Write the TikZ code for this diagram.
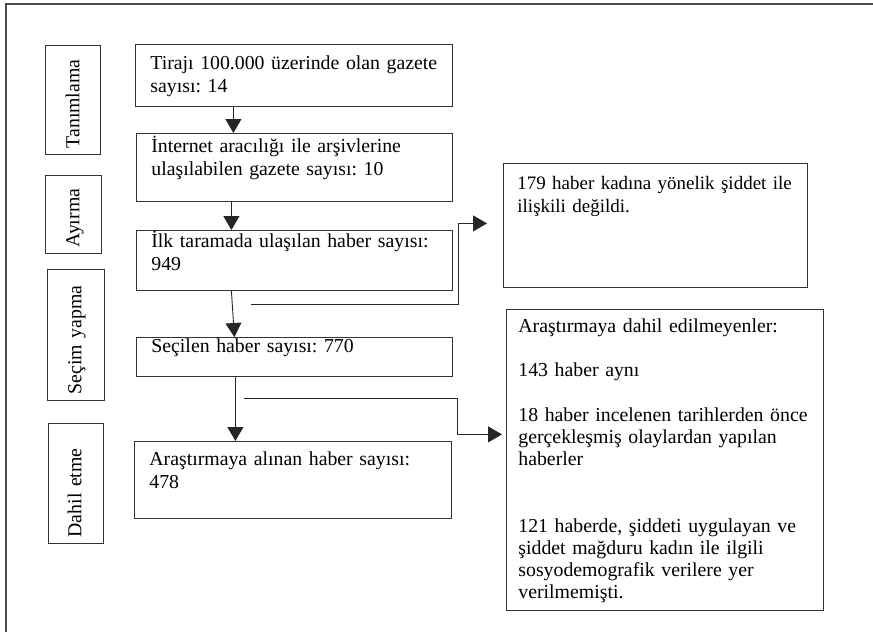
\documentclass[tikz,border=0pt]{standalone}
\usepackage{fontspec}
\setmainfont{Liberation Serif}
\usetikzlibrary{arrows.meta}
\usetikzlibrary{positioning}
\definecolor{mgray}{rgb}{0.2, 0.2, 0.2}
\newcommand{\stagefont}{\fontsize{19.8pt}{22.7pt}\selectfont}
\frenchspacing

\tikzset{
  stage/.style={draw=mgray, line width=0.8pt, anchor=north west, align=left, inner xsep=15pt, inner ysep=0pt, font=\stagefont},
  phase/.style={draw=mgray, line width=0.8pt, rotate=90, anchor=north east, align=left, inner xsep=6pt, inner ysep=0pt, font=\stagefont},
  flow/.style={-{Triangle[width=16pt, length=14pt]}, line width=0.9pt, black!85}
}

\begin{document}
\begin{tikzpicture}[x=1pt, y=-1pt]
      \useasboundingbox (0, 0) rectangle (873, 632);
      \draw [line width=1.3pt, black!70] (873, 4) -- (6, 4) -- (6, 632);

      \node [phase, text width=97pt, text height=34pt, text depth=21pt] (tanimlama) at (45, 45) {Tanımlama};
      \node [phase, text width=66pt, text height=34pt, text depth=22pt] (ayirma) at (45, 175) {Ayırma};
      \node [phase, text width=119pt, text height=34pt, text depth=23pt] (secim) at (47, 269) {Seçim yapma};
      \node [phase, text width=108pt, text height=33pt, text depth=22pt] (dahil) at (48, 423) {Dahil etme};

      \node [stage, text width=287pt, text height=25pt, text depth=37pt] (tiraj) at (135, 44) {Tirajı 100.000 üzerinde olan gazete\\sayısı: 14};
      \node [stage, text width=286pt, text height=19pt, text depth=49pt] (internet) at (136, 133) {İnternet aracılığı ile arşivlerine\\ulaşılabilen gazete sayısı: 10};
      \node [stage, text width=286pt, text height=17pt, text depth=43pt] (ilk) at (136, 230) {\makebox[291pt][s]{İlk taramada ulaşılan haber sayısı:}\\949};
      \node [stage, text width=286pt, text height=15pt, text depth=24pt] (secilen) at (136, 337) {Seçilen haber sayısı: 770};
      \node [stage, text width=287pt, text height=24pt, text depth=53pt] (arastirma) at (134, 441) {Araştırmaya alınan haber sayısı:\\478};

      \node [stage, inner xsep=14pt, text width=276pt, text height=26pt, text depth=98pt, font=\fontsize{19pt}{22.7pt}\selectfont] (degil) at (503, 163) {179 haber kadına yönelik şiddet ile\\ilişkili değildi.};
      \node [stage, inner xsep=12pt, text width=293pt, text height=23pt, text depth=278pt, font=\fontsize{19.8pt}{22.2pt}\selectfont] (dahilde) at (506, 309) {Araştırmaya dahil edilmeyenler:\\[22.2pt]143 haber aynı\\[22.2pt]18 haber incelenen tarihlerden önce\\gerçekleşmiş olaylardan yapılan\\haberler\\[44.4pt]121 haberde, şiddeti uygulayan ve\\şiddet mağduru kadın ile ilgili\\sosyodemografik verilere yer\\verilmemişti.};

      \coordinate (split1) at (251, 304);
      \coordinate (split2) at (244, 398);

      \draw [flow] ([xshift=-60.5]tiraj.south) -- ([xshift=-61]internet.north);
      \draw [flow] ([xshift=-63]internet.south) -- ([xshift=-63]ilk.north);
      \draw [flow] ([xshift=-63]ilk.south) -- ([xshift=-60]secilen.north);
      \draw [flow] ([xshift=-59]secilen.south) -- ([xshift=-57.5]arastirma.north);
      \draw [flow] (split1) -| ([xshift=-45, yshift=2]degil.west) -- ([xshift=-16, yshift=2]degil.west);
      \draw [flow] (split2) -| ([xshift=-49, yshift=25.5]dahilde.west) -- ([xshift=-4, yshift=25.5]dahilde.west);
    \end{tikzpicture}
\end{document}
